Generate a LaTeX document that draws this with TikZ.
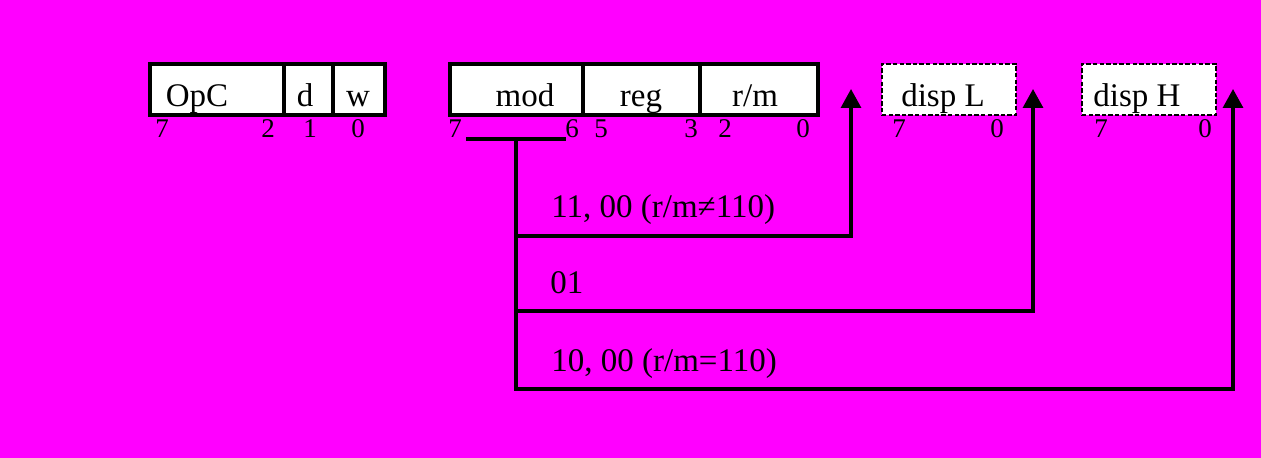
\documentclass[tikz,border=0pt]{standalone}
\usepackage{fontspec}
\setmainfont{Liberation Serif}
\usetikzlibrary{arrows.meta}
\definecolor{bg}{RGB}{255,0,255}
\begin{document}
\begin{tikzpicture}[x=0.5pt,y=-0.5pt,
  field/.style={draw,line width=1.6pt,fill=white,inner sep=0pt,outer sep=0pt,anchor=north west,minimum height=25.5pt},
  dfield/.style={field,line width=1.25pt,dash pattern=on 2.2pt off 1.1pt},
  ftext/.style={inner sep=0pt,anchor=base,font=\fontsize{16.5}{18}\selectfont},
  bit/.style={inner sep=0pt,anchor=base,font=\fontsize{13.5}{14}\selectfont},
  ltext/.style={inner sep=0pt,anchor=base west,font=\fontsize{16.5}{18}\selectfont},
  wire/.style={line width=1.6pt},
  arr/.style={line width=1.6pt,-{Triangle[width=10pt,length=9.5pt]}}]
\fill[bg] (0,0) rectangle (1261,458);
\useasboundingbox (0,0) rectangle (1261,458);
% first byte
\node[field,minimum width=67pt] (opc) at (150,64) {};
\node[field,minimum width=24.5pt] (d) at (284,64) {};
\node[field,minimum width=26pt] (w) at (333,64) {};
\node[ftext] (topc) at (197,107) {OpC};
\node[ftext] (td) at (305,107) {d};
\node[ftext] (tw) at (358,107) {w};
% second byte
\node[field,minimum width=66.5pt] (mod) at (450,64) {};
\node[field,minimum width=58.5pt] (reg) at (583,64) {};
\node[field,minimum width=59pt] (rm) at (700,64) {};
\node[ftext] (tmod) at (525,107) {mod};
\node[ftext] (treg) at (641,107) {reg};
\node[ftext] (trm) at (755,107) {r/m};
% displacement
\node[dfield,minimum width=67pt] (dl) at (882,64) {};
\node[dfield,minimum width=67pt] (dh) at (1082,64) {};
\node[ftext] (tdl) at (943,107) {disp L};
\node[ftext] (tdh) at (1137,107) {disp H};
% bit numbers
\foreach \x/\b/\n in {162/7/a,268/2/b,310/1/c,358/0/e,455/7/f,572/6/g,601/5/h,691/3/i,725/2/j,803/0/k,899/7/l,997/0/m,1101/7/n,1205/0/o}
  \node[bit] (bit\n) at (\x,137.5) {\b};
% connectors
\coordinate (barL) at (466,139);
\coordinate (barR) at (566,139);
\coordinate (b0) at (516,139);
\coordinate (t1) at (851,236);
\coordinate (t2) at (1033,311);
\coordinate (t3) at (1233,389);
\coordinate (a1) at (851,89);
\coordinate (a2) at (1033,89);
\coordinate (a3) at (1233,89);
\draw[wire] (barL) -- (barR);
\draw[arr] (b0) |- (t3) -- (a3);
\draw[arr] (b0|-t1) -- (t1) -- (a1);
\draw[arr] (b0|-t2) -- (t2) -- (a2);
% labels
\node[ltext] (l1) at (551,217.5) {11, 00 (r/m≠110)};
\node[ltext] (l2) at (550,294) {01};
\node[ltext] (l3) at (551,371.5) {10, 00 (r/m=110)};
\end{tikzpicture}
\end{document}
